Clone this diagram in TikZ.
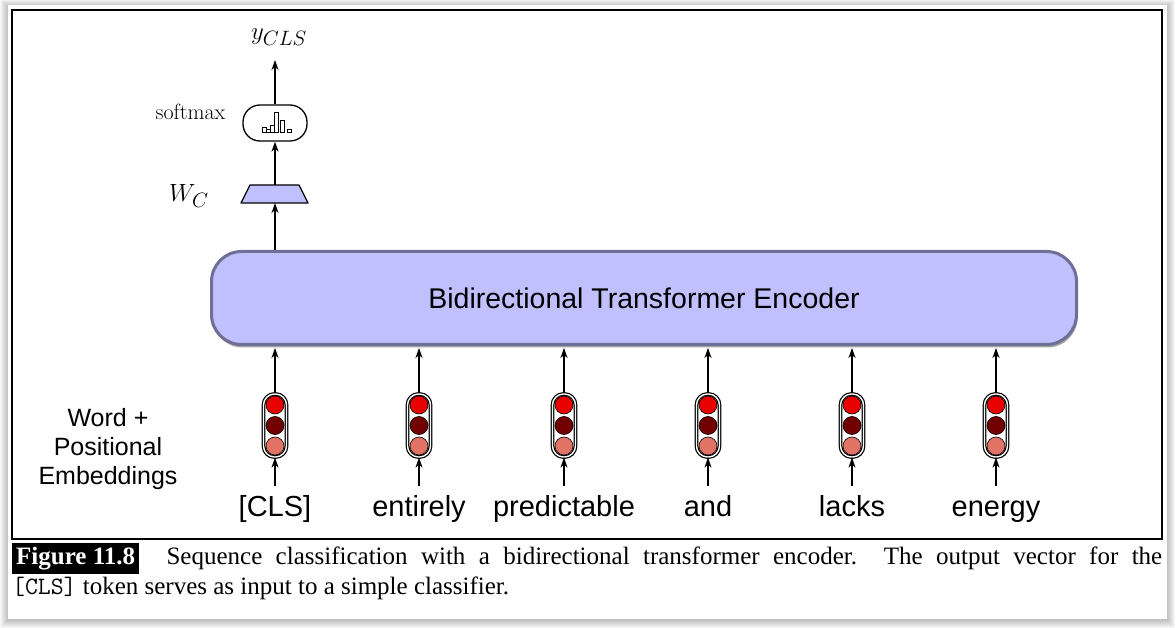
\documentclass[tikz,border=0pt]{standalone}
\usepackage{fontspec}
\newfontfamily\sansf{Liberation Sans}
\newfontfamily\capf{Liberation Serif}
\usetikzlibrary{arrows.meta,shapes.geometric,shadows}
\definecolor{lav}{RGB}{192,192,255}
\definecolor{encb}{RGB}{110,110,150}
\definecolor{redA}{RGB}{232,0,0}
\definecolor{redB}{RGB}{115,0,0}
\definecolor{redC}{RGB}{225,115,100}
\begin{document}
\begin{tikzpicture}[x=1pt,y=-1pt,
  arr/.style={line width=1.4pt,-{Stealth[length=10pt,width=7pt,inset=3pt]}},
  encbox/.style={rectangle,rounded corners=30pt,draw=encb,line width=3pt,fill=lav,
    minimum width=865pt,minimum height=93pt,
    drop shadow={shadow xshift=1pt,shadow yshift=-3pt,opacity=0.35,fill=black},
    font=\sansf\fontsize{28.5}{34}\selectfont},
  pill/.style={rectangle,rounded corners=11pt,draw=black,line width=1.2pt,double=white,
    double distance=1.4pt,minimum width=23pt,minimum height=63pt,inner sep=0pt,fill=white},
  dot/.style={circle,draw=black,line width=0.6pt,minimum size=18pt,inner sep=0pt},
  word/.style={anchor=base,inner xsep=0pt,inner ysep=9pt,text height=21pt,
    font=\sansf\fontsize{29}{34}\selectfont},
  bar/.style={draw=black,line width=0.8pt,fill=white}
]
\useasboundingbox (0,0) rectangle (1176,628);
% page shadow
\fill[white] (0,0) rectangle (1176,628);
\foreach \k in {1,...,8}
  \fill[black,opacity=0.03] (8-\k,5-\k+2) rectangle (1167+\k,619+\k+1);
\fill[white] (8,5) rectangle (1167,619);
% frame
\draw[line width=1.5pt] (12,10) rectangle (1162,539);

% encoder
\node[encbox] (enc) at (644,298) {Bidirectional Transformer Encoder};

% classifier head
\coordinate (wcS) at (275,203);
\coordinate (wcN) at (275,185);
\filldraw[fill=lav,draw=black,line width=1.2pt,line join=round]
  (241,203) -- (308,203) -- (299,185) -- (250,185) -- cycle;
\node[font=\fontsize{28}{34}\selectfont] (wcl) at (189,196) {$W_C$};
\node[rectangle,rounded corners=17pt,draw=black,line width=1.3pt,fill=white,
  minimum width=64pt,minimum height=36pt] (sm) at (275,123) {};
\node[font=\fontsize{22}{26}\selectfont,anchor=base] (sml) at (190.5,120) {softmax};
\draw[bar] ([shift={(-13,9)}]sm.center) rectangle ([shift={(-9,4)}]sm.center);
\draw[bar] ([shift={(-9,9)}]sm.center) rectangle ([shift={(-5,6)}]sm.center);
\draw[bar] ([shift={(-5,9)}]sm.center) rectangle ([shift={(-1,2)}]sm.center);
\draw[bar] ([shift={(-1,9)}]sm.center) rectangle ([shift={(3,-11)}]sm.center);
\draw[bar] ([shift={(5,9)}]sm.center) rectangle ([shift={(9,-3)}]sm.center);
\draw[bar] ([shift={(12,9)}]sm.center) rectangle ([shift={(16,6)}]sm.center);
\node[font=\fontsize{30}{36}\selectfont,anchor=base] (ycls) at (279,40) {$y_{CLS}$};
\coordinate (ytip) at (275,60);

\draw[arr] (wcS |- enc.north) -- (wcS);
\draw[arr] (wcN) -- (sm.south);
\draw[arr] (sm.north) -- (ytip);

% embeddings
\node[align=center,font=\sansf\fontsize{25}{29}\selectfont] (lbl) at (108,449)
  {Word +\\Positional\\Embeddings};
\foreach \i/\x/\t in {1/275/{[CLS]},2/419/entirely,3/564/predictable,4/708/and,5/852/lacks,6/996/energy}{
  \node[pill] (e\i) at (\x,425.5) {};
  \node[dot,fill=redA] (e\i a) at (\x,405) {};
  \node[dot,fill=redB] (e\i b) at (\x,425.5) {};
  \node[dot,fill=redC] (e\i c) at (\x,446) {};
  \node[word] (w\i) at (\x,516) {\t};
  \draw[arr] (w\i.north) -- (e\i.south);
  \draw[arr,shorten >=2pt] (e\i.north) -- (e\i.north |- enc.south);
}

% caption
\node[anchor=north west,inner sep=0pt,text width=1150pt,align=justify,
  font=\capf\fontsize{25}{29.5}\selectfont] (cap) at (12,543)
  {{\fboxsep=4pt\colorbox{black}{\textcolor{white}{\bfseries Figure 11.8}}}\hspace{14pt}
   Sequence classification with a bidirectional transformer encoder.\ \ The output vector for the\linebreak
   {\ttfamily [CLS]} token serves as input to a simple classifier.};
\end{tikzpicture}
\end{document}
